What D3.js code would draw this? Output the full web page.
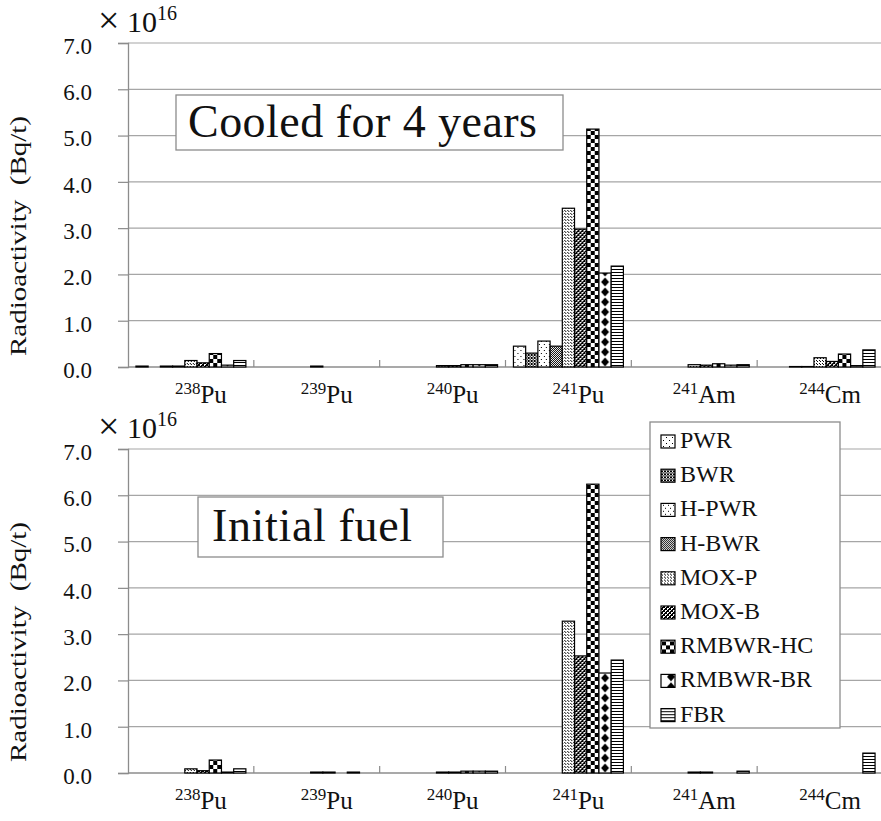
<!DOCTYPE html>
<html>
<head>
<meta charset="utf-8">
<script src="https://cdn.jsdelivr.net/npm/d3@7"></script>
<style>
  body { margin: 0; background: #fff; }
  svg { display: block; }
  svg text { font-family: "Liberation Serif", "Times New Roman", Times, "Nimbus Roman", "FreeSerif", "DejaVu Serif", "Noto Serif", serif; }
</style>
</head>
<body>
<div id="chart"></div>
<script>
// Isotopes (x categories)
const isoMass = ["238", "239", "240", "241", "241", "244"];
const isoSym = ["Pu", "Pu", "Pu", "Pu", "Am", "Cm"];

// Fuel types (series)
const series = ["PWR", "BWR", "H-PWR", "H-BWR", "MOX-P", "MOX-B", "RMBWR-HC", "RMBWR-BR", "FBR"];

// y axis ticks (x 10^16 Bq/t)
const yTicks = [0, 1, 2, 3, 4, 5, 6, 7];

// Cooled for 4 years, per series, values by isotope
const cooledPWR   = [0.02, 0,    0,    0.45, 0,    0];
const cooledBWR   = [0,    0,    0,    0.30, 0,    0];
const cooledHPWR  = [0.02, 0,    0,    0.56, 0,    0.01];
const cooledHBWR  = [0.02, 0,    0,    0.45, 0,    0.01];
const cooledMOXP  = [0.14, 0.02, 0.03, 3.43, 0.05, 0.20];
const cooledMOXB  = [0.09, 0,    0.03, 2.98, 0.04, 0.12];
const cooledRMHC  = [0.29, 0,    0.05, 5.14, 0.07, 0.28];
const cooledRMBR  = [0.04, 0,    0.05, 2.03, 0.04, 0.03];
const cooledFBR   = [0.14, 0,    0.05, 2.18, 0.05, 0.37];

// Initial fuel
const initPWR  = [0,    0,    0,    0,    0,    0];
const initBWR  = [0,    0,    0,    0,    0,    0];
const initHPWR = [0,    0,    0,    0,    0,    0];
const initHBWR = [0,    0,    0,    0,    0,    0];
const initMOXP = [0.09, 0.02, 0.02, 3.28, 0.02, 0];
const initMOXB = [0.05, 0.02, 0.02, 2.53, 0.02, 0];
const initRMHC = [0.28, 0,    0.04, 6.24, 0,    0];
const initRMBR = [0.02, 0.02, 0.04, 2.16, 0,    0];
const initFBR  = [0.09, 0,    0.04, 2.44, 0.04, 0.43];

const cooled = [cooledPWR, cooledBWR, cooledHPWR, cooledHBWR, cooledMOXP, cooledMOXB, cooledRMHC, cooledRMBR, cooledFBR];
const initial = [initPWR, initBWR, initHPWR, initHBWR, initMOXP, initMOXB, initRMHC, initRMBR, initFBR];

const W = 881, H = 821;
const svg = d3.select("#chart").append("svg").attr("width", W).attr("height", H);

// ---- fill patterns (one per bar so the tiles line up with the bar edge) ----
const defs = svg.append("defs");
let patId = 0;
function px(p, pts, s) {
  pts.forEach(([x, y]) => p.append("rect").attr("x", x).attr("y", y)
    .attr("width", s || 1).attr("height", s || 1).attr("fill", "#000"));
}
const patternDefs = [
  { w: 6, h: 6, draw: p => px(p, [[1, 1], [4, 4]]) },                                   // PWR
  { w: 3, h: 3, draw: p => px(p, [[0, 0], [1, 1], [2, 2], [2, 0], [0, 2]]) },           // BWR
  { w: 5, h: 6, draw: p => px(p, [[1, 1], [3, 4]]) },                                   // H-PWR
  { w: 2, h: 2, draw: p => px(p, [[0, 0], [1, 1]]) },                                   // H-BWR
  { w: 3, h: 3, draw: p => px(p, [[0, 0], [2, 2]]) },                                   // MOX-P
  { w: 4, h: 4, draw: p => px(p, [[0, 0], [1, 1], [2, 2], [3, 3], [3, 0], [2, 1], [1, 2], [0, 3], [2, 0], [0, 2]]) }, // MOX-B
  { w: 8, h: 8, draw: p => px(p, [[0, 0], [4, 4]], 4) },                                // RMBWR-HC
  { w: 12, h: 10, draw: null },                                                          // RMBWR-BR
  { w: 3, h: 3, draw: p => px(p, [[0, 1], [1, 1], [2, 1]]) }                            // FBR
];
function fillFor(si, ox, oy, w) {
  const d = patternDefs[si];
  const id = "pat" + (patId++);
  const pw = si === 7 ? w : d.w;
  const p = defs.append("pattern").attr("id", id)
    .attr("patternUnits", "userSpaceOnUse")
    .attr("x", ox).attr("y", oy).attr("width", pw).attr("height", d.h);
  p.append("rect").attr("width", pw).attr("height", d.h).attr("fill", "#fff");
  if (si === 7) {
    p.append("path").attr("d", `M${pw / 2},0.5 L${pw / 2 + 4},5 L${pw / 2},9.5 L${pw / 2 - 4},5 Z`).attr("fill", "#000");
  } else {
    d.draw(p);
  }
  return `url(#${id})`;
}

// ---- layout ----
const left = 128, right = 883;
const panels = [
  { top: 43, bottom: 367, data: cooled, title: "Cooled for 4 years",
    box: [176, 95, 387, 55], textX: 188, textY: 137, textW: 349 },
  { top: 449, bottom: 773, data: initial, title: "Initial fuel",
    box: [198, 497, 245, 60], textX: 212, textY: 541, textW: 200 }
];

const x0 = d3.scaleBand().domain(d3.range(isoMass.length)).range([left, right]);
const x1 = d3.scaleBand().domain(series).range([0, x0.bandwidth()]).paddingOuter(0.65);

panels.forEach(pn => {
  const g = svg.append("g");
  const y = d3.scaleLinear().domain([0, 7]).range([pn.bottom, pn.top]);

  // gridlines
  g.append("g").selectAll("line").data(yTicks.slice(1)).join("line")
    .attr("x1", left).attr("x2", right)
    .attr("y1", d => y(d)).attr("y2", d => y(d))
    .attr("stroke", "#a6a6a6").attr("stroke-width", 1.2);

  // y axis
  const ya = g.append("g").attr("transform", `translate(${left},0)`)
    .call(d3.axisLeft(y).tickValues(yTicks).tickSize(10).tickPadding(26)
      .tickFormat(d => d.toFixed(1)));
  ya.attr("font-family", null);
  ya.select(".domain").attr("stroke", "#8c8c8c").attr("stroke-width", 1.3);
  ya.selectAll(".tick line").attr("stroke", "#8c8c8c").attr("stroke-width", 1.2);
  ya.selectAll(".tick text").attr("font-size", 23)
    .attr("fill", "#111").attr("dy", "0.45em");

  // x axis
  g.append("line").attr("x1", left).attr("x2", right)
    .attr("y1", pn.bottom).attr("y2", pn.bottom)
    .attr("stroke", "#8c8c8c").attr("stroke-width", 1.5);
  g.append("g").selectAll("line").data(d3.range(1, isoMass.length)).join("line")
    .attr("x1", d => x0(d)).attr("x2", d => x0(d))
    .attr("y1", pn.bottom).attr("y2", pn.bottom - 7)
    .attr("stroke", "#8c8c8c").attr("stroke-width", 1.2);

  const lab = g.append("g").selectAll("text").data(isoMass).join("text")
    .attr("x", (d, i) => x0(i) + x0.bandwidth() / 2 + 10)
    .attr("y", pn.bottom + 36)
    .attr("text-anchor", "middle").attr("fill", "#111");
  lab.append("tspan").attr("font-size", 17).attr("dy", -9).text(d => d);
  lab.append("tspan").attr("font-size", 25).attr("dy", 9).text((d, i) => isoSym[i]);

  // bars
  series.forEach((s, si) => {
    g.append("g").selectAll("rect").data(pn.data[si]).join("rect")
      .attr("x", (d, i) => x0(i) + x1(s))
      .attr("width", x1.bandwidth())
      .attr("y", d => y(d))
      .attr("height", d => pn.bottom - y(d))
      .attr("fill", (d, i) => fillFor(si, x0(i) + x1(s), pn.bottom, x1.bandwidth()))
      .attr("stroke", d => d > 0 ? "#000" : "none").attr("stroke-width", 1.2);
  });

  // axis title
  g.append("text")
    .attr("transform", `translate(26,${(pn.top + pn.bottom) / 2 + 31}) rotate(-90)`)
    .attr("text-anchor", "middle").attr("font-size", 23).attr("fill", "#111")
    .attr("textLength", 240).attr("lengthAdjust", "spacingAndGlyphs")
    .text("Radioactivity\u00a0 (Bq/t)");

  // x10^16
  g.append("text").attr("x", 98).attr("y", pn.top - 23).attr("fill", "#111")
    .attr("dominant-baseline", "central")
    .attr("font-size", 38).text("\u00d7");
  const ex = g.append("text").attr("x", 127).attr("y", pn.top - 11).attr("fill", "#111");
  ex.append("tspan").attr("font-size", 30).text("10");
  ex.append("tspan").attr("font-size", 20).attr("dy", -12).text("16");

  // panel title box
  g.append("rect").attr("x", pn.box[0]).attr("y", pn.box[1])
    .attr("width", pn.box[2]).attr("height", pn.box[3])
    .attr("fill", "#fff").attr("stroke", "#8c8c8c").attr("stroke-width", 1.3);
  g.append("text").attr("x", pn.textX).attr("y", pn.textY)
    .attr("font-size", 46).attr("fill", "#111")
    .attr("textLength", pn.textW).attr("lengthAdjust", "spacing").text(pn.title);
});

// legend
const lg = svg.append("g");
lg.append("rect").attr("x", 650).attr("y", 422).attr("width", 190).attr("height", 306)
  .attr("fill", "#fff").attr("stroke", "#8c8c8c").attr("stroke-width", 1.3);
const li = lg.selectAll("g.item").data(series).join("g").attr("class", "item")
  .attr("transform", (d, i) => `translate(661,${448 + i * 34.2})`);
li.append("rect").attr("x", 0).attr("y", -13).attr("width", 14).attr("height", 13)
  .attr("fill", (d, i) => fillFor(i, 661, 435 + i * 34.2, 14))
  .attr("stroke", "#000").attr("stroke-width", 1.2);
li.append("text").attr("x", 19).attr("y", 0).attr("font-size", 24).attr("fill", "#111")
  .text(d => d);
</script>
</body>
</html>
